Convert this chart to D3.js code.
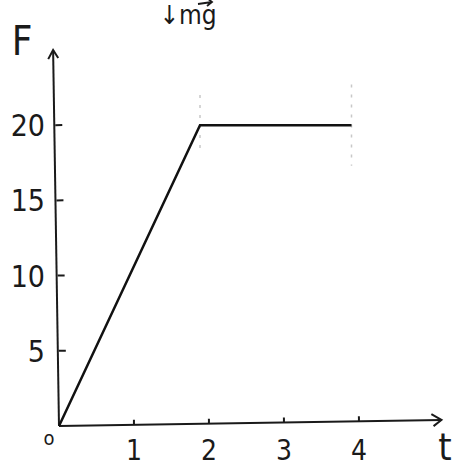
<!DOCTYPE html>
<html>
<head>
<meta charset="utf-8">
<script src="https://cdn.jsdelivr.net/npm/d3@7"></script>
<style>
  body { margin: 0; background: #fff; }
  text { font-family: "Liberation Sans Narrow", "DejaVu Sans Condensed", sans-serif; fill: #1a1a1a; }
</style>
</head>
<body>
<svg id="plot" width="461" height="469"></svg>
<script>
// Force vs time data
var tValues = [0, 1.88, 3.9];
var fValues = [0, 20, 20];
var xTicks = [1, 2, 3, 4];
var yTicks = [5, 10, 15, 20];
var guideTimes = [1.88, 3.9];

var ox = 59;
var oy = 426;

var xScale = d3.scaleLinear().domain([0, 5]).range([0, 375]);
var yScale = d3.scaleLinear().domain([0, 25]).range([0, -376]);

var svg = d3.select('#plot');
// axes get a slight tilt like the hand drawing
var axes = svg.append('g')
  .attr('transform', 'translate(' + ox + ',' + oy + ') rotate(-0.9)');
var g = svg.append('g')
  .attr('transform', 'translate(' + ox + ',' + oy + ')');

// faint guide marks
g.selectAll('.guide')
  .data(guideTimes)
  .enter()
  .append('line')
  .attr('x1', (d) => xScale(d))
  .attr('x2', (d) => xScale(d))
  .attr('y1', (d, i) => yScale(i ? 22.7 : 22))
  .attr('y2', (d, i) => yScale(i ? 17.3 : 18.3))
  .attr('stroke', '#c8c8c8')
  .attr('stroke-width', 1.5)
  .attr('stroke-dasharray', '3,7');

// axes
axes.append('line')
  .attr('x1', 0).attr('y1', 0)
  .attr('x2', xScale(5.1)).attr('y2', 0)
  .attr('stroke', '#1a1a1a').attr('stroke-width', 2);
axes.append('path')
  .attr('d', 'M' + (xScale(5.1) - 10) + ',-6 L' + xScale(5.1) + ',0 L' + (xScale(5.1) - 8) + ',6')
  .attr('fill', 'none').attr('stroke', '#1a1a1a').attr('stroke-width', 2);

axes.append('line')
  .attr('x1', 0).attr('y1', 0)
  .attr('x2', 0).attr('y2', yScale(25))
  .attr('stroke', '#1a1a1a').attr('stroke-width', 2);
axes.append('path')
  .attr('d', 'M-5,' + (yScale(25) + 9) + ' L0,' + yScale(25) + ' L5,' + (yScale(25) + 8))
  .attr('fill', 'none').attr('stroke', '#1a1a1a').attr('stroke-width', 2);

// ticks
axes.selectAll('.xtick')
  .data(xTicks)
  .enter()
  .append('line')
  .attr('x1', (d) => xScale(d)).attr('x2', (d) => xScale(d))
  .attr('y1', 0).attr('y2', -5)
  .attr('stroke', '#1a1a1a').attr('stroke-width', 2);

axes.selectAll('.ytick')
  .data(yTicks)
  .enter()
  .append('line')
  .attr('x1', 1).attr('x2', 8)
  .attr('y1', (d) => yScale(d)).attr('y2', (d) => yScale(d))
  .attr('stroke', '#1a1a1a').attr('stroke-width', 2);

// tick labels
g.selectAll('.xlabel')
  .data(xTicks)
  .enter()
  .append('text')
  .attr('x', (d) => xScale(d))
  .attr('y', 34)
  .attr('text-anchor', 'middle')
  .attr('font-size', 28)
  .text((d) => d);

g.selectAll('.ylabel')
  .data(yTicks)
  .enter()
  .append('text')
  .attr('x', -14)
  .attr('y', (d) => yScale(d) + 11)
  .attr('text-anchor', 'end')
  .attr('font-size', 30)
  .text((d) => d);

g.append('text')
  .attr('x', -10).attr('y', 19)
  .attr('text-anchor', 'middle')
  .attr('font-size', 20)
  .text('o');

// the force curve
var line = d3.line()
  .x((d) => xScale(d[0]))
  .y((d) => yScale(d[1]));

g.append('path')
  .datum(tValues.map((t, i) => [t, fValues[i]]))
  .attr('d', line)
  .attr('fill', 'none')
  .attr('stroke', '#111')
  .attr('stroke-width', 2.5);

// axis names
svg.append('text')
  .attr('x', 22).attr('y', 55)
  .attr('text-anchor', 'middle')
  .attr('font-size', 40)
  .attr('font-weight', 300)
  .text('F');

svg.append('text')
  .attr('x', 445).attr('y', 460)
  .attr('text-anchor', 'middle')
  .attr('font-size', 38)
  .text('t');

// weight note at the top
svg.append('text')
  .attr('x', 188).attr('y', 24)
  .attr('text-anchor', 'middle')
  .attr('font-size', 26)
  .text('↓mg');
svg.append('path')
  .attr('d', 'M198,4 L212,2 M207,-2 L212,2 L207,6')
  .attr('fill', 'none').attr('stroke', '#1a1a1a').attr('stroke-width', 1.8);
</script>
</body>
</html>
